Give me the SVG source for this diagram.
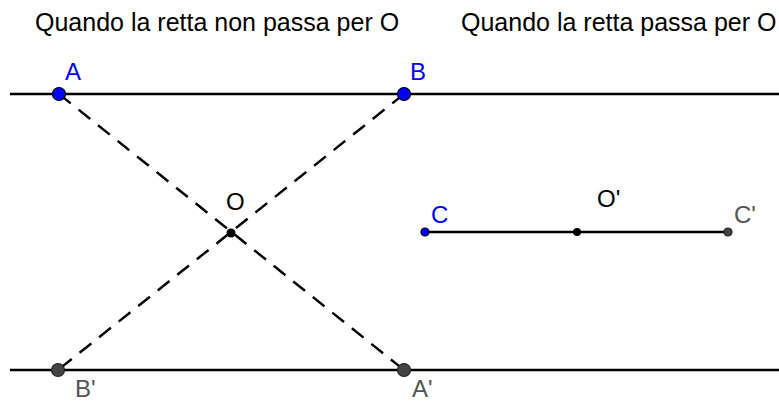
<svg xmlns="http://www.w3.org/2000/svg" width="779" height="403" viewBox="0 0 779 403">
<style>
text{font-family:"Liberation Sans",Arial,sans-serif;font-size:24px;}
.title{fill:#000;font-size:25px;}
.blue{fill:#0000ff;}
.gray{fill:#555;}
.blk{fill:#000;}
.line{stroke:#000;stroke-width:2.5;fill:none;}
.dash{stroke:#000;stroke-width:2.5;fill:none;stroke-dasharray:15 10;}
.pb{fill:#0000ff;stroke:#000;stroke-width:1.2;}
.pg{fill:#444;stroke:#222;stroke-width:1.2;}
.pk{fill:#000;}
</style>
<rect width="779" height="403" fill="#fff"/>
<text class="title" x="35" y="31">Quando la retta non passa per O</text>
<text class="title" x="461" y="31">Quando la retta passa per O</text>
<g id="connectors">
<line class="line" x1="10" y1="94" x2="779" y2="94"/>
<line class="line" x1="10" y1="370" x2="779" y2="370"/>
<line class="dash" x1="59" y1="94" x2="404" y2="370"/>
<line class="dash" x1="404" y1="94" x2="58" y2="370"/>
<line class="line" x1="425" y1="232" x2="728" y2="232"/>
</g>
<g id="A"><circle class="pb" cx="59" cy="94" r="6.5"/><text class="blue" x="65" y="80">A</text></g>
<g id="B"><circle class="pb" cx="404" cy="94" r="6.5"/><text class="blue" x="410" y="80">B</text></g>
<g id="O"><circle class="pk" cx="231" cy="233" r="4.5"/><text class="blk" x="226" y="210">O</text></g>
<g id="Bp"><circle class="pg" cx="58" cy="370" r="6.5"/><text class="gray" x="75" y="397">B'</text></g>
<g id="Ap"><circle class="pg" cx="404" cy="370" r="6.5"/><text class="gray" x="412" y="397">A'</text></g>
<g id="C"><circle class="pb" cx="425" cy="232" r="4"/><text class="blue" x="431" y="223">C</text></g>
<g id="Op"><circle class="pk" cx="577" cy="232" r="4"/><text class="blk" x="597" y="207">O'</text></g>
<g id="Cp"><circle class="pg" cx="728" cy="232" r="4"/><text class="gray" x="734" y="223">C'</text></g>
</svg>
